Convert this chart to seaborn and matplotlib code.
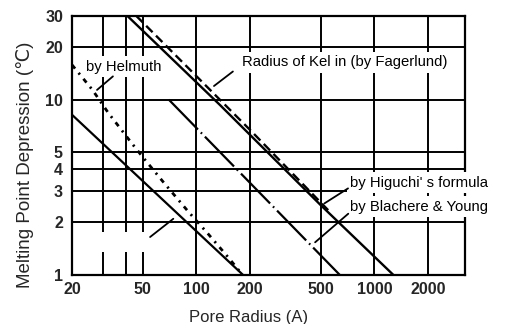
import matplotlib
matplotlib.use("Agg")
import matplotlib.pyplot as plt
from matplotlib.patches import Rectangle
from matplotlib.ticker import NullFormatter, FixedLocator
import seaborn as sns
import pandas as pd

# ---- data (pore radius in A, depression in deg C) ----
helmuth_r = [20, 26, 32, 43, 50, 65, 90, 115, 150, 182]
helmuth_dt = [15.8, 11.4, 8.4, 5.7, 4.7, 3.4, 2.3, 1.74, 1.27, 1.0]

unlabeled_r = [20, 183]
unlabeled_dt = [8.2, 1.0]

blachere_r = [70, 640]
blachere_dt = [10.0, 1.0]

higuchi_r = [41, 136, 500, 1280]
higuchi_dt = [30.0, 9.3, 2.5, 1.0]

fagerlund_r = [46, 205, 560]
fagerlund_dt = [30.0, 6.56, 2.3]

x_ticks = [20, 50, 100, 200, 500, 1000, 2000]
x_minor_grid = [30, 40]
y_ticks = [1, 2, 3, 4, 5, 10, 20, 30]

sns.set_theme(style="white")
plt.rcParams["font.family"] = ["Liberation Sans", "DejaVu Sans"]
plt.rcParams["lines.scale_dashes"] = False

fig = plt.figure(figsize=(5.08, 3.24), dpi=100)
ax = fig.add_axes([72 / 508, 49 / 324, 393 / 508, 259 / 324])
ax.set_xscale("log")
ax.set_yscale("log")

def draw(r, dt, **kw):
    df = pd.DataFrame({"r": r, "dt": dt})
    sns.lineplot(data=df, x="r", y="dt", ax=ax, color="black", sort=False,
                 zorder=2, **kw)

draw(helmuth_r, helmuth_dt, linewidth=2.0, linestyle=(0, (3.5, 4, 1.5, 4)))
draw(unlabeled_r, unlabeled_dt, linewidth=1.6)
draw(blachere_r, blachere_dt, linewidth=1.6, linestyle=(0, (30, 3, 1.2, 3)))
draw(higuchi_r, higuchi_dt, linewidth=1.7)
draw(fagerlund_r, fagerlund_dt, linewidth=1.7, linestyle=(0, (6.5, 3.5)))

ax.set_xlim(20, 3230)
ax.set_ylim(1, 30)

ax.xaxis.set_major_locator(FixedLocator(x_ticks))
ax.xaxis.set_minor_locator(FixedLocator(x_minor_grid))
ax.set_xticklabels([str(v) for v in x_ticks])
ax.xaxis.set_minor_formatter(NullFormatter())
ax.yaxis.set_major_locator(FixedLocator(y_ticks))
ax.yaxis.set_minor_locator(FixedLocator([]))
ax.set_yticklabels([str(v) for v in y_ticks])
ax.yaxis.set_minor_formatter(NullFormatter())

ax.grid(which="both", color="black", linewidth=1.4)
ax.set_axisbelow(True)
for s in ax.spines.values():
    s.set_color("black")
    s.set_linewidth(1.6)

ax.tick_params(axis="both", which="both", length=0)
ax.tick_params(axis="x", pad=5)
ax.tick_params(axis="y", pad=6.5)
for lab in ax.get_xticklabels() + ax.get_yticklabels():
    lab.set_fontweight("bold")
    lab.set_fontsize(11.5)

ax.set_xlabel("Pore Radius (A)", fontsize=12)
ax.set_ylabel("Melting Point Depression (\u2103)", fontsize=13.5)
ax.xaxis.set_label_coords(0.448, -0.135)
ax.yaxis.set_label_coords(-0.097, 0.425)

box = dict(facecolor="white", edgecolor="none", pad=2.5)
tkw = dict(fontsize=10.7, ha="left", va="center", color="black", zorder=3, bbox=box)
ax.text(23.9, 15.4, "by Helmuth", **tkw)
ax.text(180, 16.3, "Radius of Kel in (by Fagerlund)", **tkw)
ax.text(733, 3.36, "by Higuchi' s formula", **tkw)
ax.text(733, 2.45, "by Blachere & Young", **tkw)

# white patch left in the grid at lower left (label area of the unlabeled line)
ax.add_patch(Rectangle((26.9, 1.35), 54.7 - 26.9, 1.76 - 1.35,
                       facecolor="white", edgecolor="none", zorder=1))

akw = dict(arrowprops=dict(arrowstyle="-", color="black", lw=1.3), zorder=4)
ax.annotate("", xy=(26.9, 11.1), xytext=(34.9, 13.9), **akw)
ax.annotate("", xy=(122, 11.7), xytext=(165, 14.8), **akw)
ax.annotate("", xy=(508, 2.51), xytext=(733, 3.18), **akw)
ax.annotate("", xy=(452, 1.50), xytext=(733, 2.29), **akw)
ax.annotate("", xy=(76.3, 2.14), xytext=(53.4, 1.61), **akw)

fig.savefig("out.png", dpi=100, facecolor="white")
